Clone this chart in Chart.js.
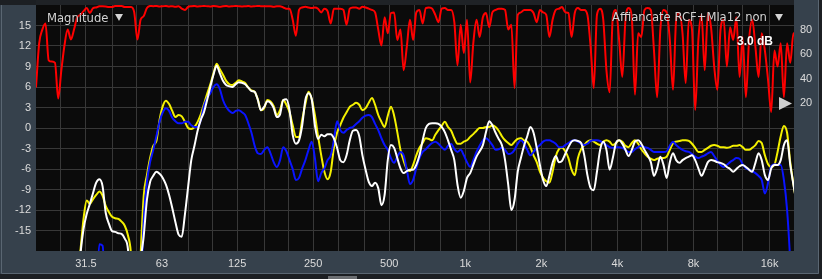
<!DOCTYPE html>
<html><head><meta charset="utf-8">
<script src="https://cdn.jsdelivr.net/npm/chart.js@4/dist/chart.umd.min.js"></script>
<style>html,body{margin:0;padding:0;background:#1c1f23;overflow:hidden}#wrap{width:822px;height:279px;position:relative}</style>
</head><body><div id="wrap"><canvas id="c" width="822" height="279"></canvas></div>
<script>
// 1/24-octave frequency bins (Hz)
const freqs = [
20,20.59,21.19,21.81,22.45,23.11,23.78,24.48,25.2,25.94,26.7,27.48,28.28,29.11,29.97,30.84,31.75,32.68,33.64,34.62,35.64,36.68,37.75,38.86,
40,41.17,42.38,43.62,44.9,46.22,47.57,48.96,50.4,51.87,53.39,54.96,56.57,58.23,59.93,61.69,63.5,65.36,67.27,69.24,71.27,73.36,75.51,77.72,
80,82.34,84.76,87.24,89.8,92.43,95.14,97.93,100.8,103.7,106.8,109.9,113.1,116.5,119.9,123.4,127,130.7,134.5,138.5,142.5,146.7,151,155.4,
160,164.7,169.5,174.5,179.6,184.9,190.3,195.9,201.6,207.5,213.6,219.8,226.3,232.9,239.7,246.8,254,261.4,269.1,277,285.1,293.4,302,310.9,
320,329.4,339,349,359.2,369.7,380.5,391.7,403.2,415,427.1,439.6,452.5,465.8,479.5,493.5,508,522.9,538.2,554,570.2,586.9,604.1,621.8,
640,658.8,678.1,697.9,718.4,739.5,761.1,783.4,806.4,830,854.3,879.3,905.1,931.6,958.9,987,1016,1046,1076,1108,1140,1174,1208,1244,
1280,1318,1356,1396,1437,1479,1522,1567,1613,1660,1709,1759,1810,1863,1918,1974,2032,2092,2153,2216,2281,2348,2416,2487,
2560,2635,2712,2792,2874,2958,3044,3134,3225,3320,3417,3517,3620,3727,3836,3948,4064,4183,4305,4432,4561,4695,4833,4974,
5120,5270,5425,5583,5747,5916,6089,6267,6451,6640,6834,7035,7241,7453,7671,7896,8127,8366,8611,8863,9123,9390,9665,9948,
10240,10540,10850,11170,11490,11830,12180,12530,12900,13280,13670,14070,14480,14900,15340,15790,16250,16730,17220,17720,18240,18780,19330,19900,
20480];

// Magnitude traces (dB)
const yellowDb = [
-30,-30,-30,-30,-30,-30,-30,-30,-30,-30,-30,-30,-30,-22,-18,-13.3,-10.6,-11.1,-10.4,-9.8,-9.3,-9.9,-11.4,-12.3,
-13.0,-13.2,-13.3,-13.7,-14.3,-15.7,-18.7,-30,-30,-18.8,-9.9,-6.9,-4.4,-2.6,-1.9,1.2,3.2,4.0,3.5,2.5,1.6,1.9,1.7,0.9,
0,-0.15,0.15,0.9,2.0,3.5,5.0,6.4,8.0,9.4,8.6,7.8,6.9,6.4,6.3,6.6,7.0,6.8,6.6,5.9,5.5,5.3,4.2,2.6,
2.9,4.1,3.9,3.2,1.9,2.6,4.1,3.4,2.3,0.4,-1.3,-1.3,1.2,3.5,5.3,4.2,1.9,-1.2,-4.0,-6.4,-7.5,-6.4,-2.9,-0.7,
0.4,1.5,2.3,3.1,3.4,3.7,3.4,2.6,2.9,3.7,4.4,3.4,1.9,0.9,0.15,1.8,3.1,1.8,-0.6,-3.2,-4.8,-6.0,-6.3,-5.4,
-4.0,-2.9,-2.2,-1.5,-1.6,-1.8,-1.0,-0.3,0.3,0.9,0.15,-0.4,-1.5,-2.3,-2.3,-2.0,-1.8,-1.3,-0.9,-0.4,0,0,0.15,0.15,
0.4,0.15,-0.4,-1.2,-1.8,-2.2,-2.5,-2.0,-1.6,-1.5,-1.8,-2.0,-2.8,-4.0,-5.0,-6.4,-7.3,-7.8,-8.0,-6.4,-4.2,-3.1,-2.9,-3.4,
-4.4,-6.1,-6.9,-4.4,-3.1,-2.5,-2.0,-1.8,-2.0,-2.3,-2.5,-2.0,-1.8,-2.0,-2.5,-2.2,-1.8,-2.0,-2.6,-2.8,-2.2,-1.8,-2.3,-3.1,
-3.7,-4.2,-4.5,-4.7,-4.5,-4.4,-4.4,-4.2,-3.2,-2.2,-2.0,-1.9,-1.8,-1.8,-1.9,-2.3,-2.9,-3.5,-3.5,-3.2,-2.9,-2.6,-2.5,-2.6,
-2.8,-2.8,-2.9,-2.8,-2.6,-2.6,-2.5,-2.8,-3.2,-3.2,-2.9,-2.5,-1.9,-2.2,-4.0,-5.3,-5.7,-5.4,-3.5,-1.2,0.3,-0.7,-5.0,-8.2,
-11];

const whiteDb = [
-30,-30,-30,-30,-30,-30,-30,-30,-30,-30,-30,-30,-30,-25,-18.6,-14.8,-12.6,-11.1,-9.5,-8.0,-7.5,-8.5,-12.4,-14.0,
-15.1,-15.2,-15.4,-15.5,-16.2,-17.7,-25,-30,-30,-20,-15.8,-10.5,-7.9,-7.0,-6.4,-6.7,-7.3,-8.3,-9.8,-11.7,-13.8,-15.6,-15.9,-12.6,
-8.6,-4.7,-2.6,-0.4,1.2,2.3,4.1,6.0,7.8,9.1,8.0,6.9,6.3,6.1,6.0,6.4,6.7,6.6,6.4,5.9,5.4,5.3,4.1,2.6,
3.1,3.9,3.7,2.9,1.6,2.0,4.1,4.2,2.6,-1.0,-2.3,-1.8,0.4,4.1,5.1,4.2,0.4,-1.6,-1.0,-1.2,-0.9,-0.9,-1.5,-2.9,
-4.7,-5.0,-4.0,-1.8,-0.4,-0.3,-1.2,-4.0,-6.1,-7.9,-8.5,-8.0,-8.8,-11.3,-9.8,-4.7,-2.5,-2.9,-4.4,-5.9,-6.6,-6.3,-6.1,-6.1,
-5.4,-4.0,-1.8,0,0.6,0.7,0.7,0.6,0.15,-0.6,-1.8,-3.2,-4.7,-8.3,-10.2,-9.2,-7.3,-6.6,-5.4,-4.2,-3.4,-2.5,-0.6,1.0,
0.4,-0.7,-1.6,-2.5,-4.7,-8.3,-12.0,-10.5,-6.4,-4.4,-2.6,-1.2,0.15,-0.7,-2.9,-5.4,-7.6,-8.5,-7.0,-5.1,-4.1,-5.0,-4.8,-3.8,
-2.8,-2.0,-1.8,-1.9,-2.2,-4.0,-6.9,-8.8,-9.1,-6.4,-3.2,-2.0,-3.2,-6.1,-4.4,-2.2,-1.8,-2.3,-3.2,-4.1,-3.2,-2.0,-1.8,-2.3,
-3.2,-4.0,-5.0,-7.0,-5.9,-4.2,-5.4,-7.3,-5.0,-3.7,-4.7,-5.1,-4.7,-4.4,-4.2,-4.0,-4.7,-5.9,-7.0,-6.1,-5.0,-4.7,-4.8,-5.0,
-5.1,-5.3,-5.7,-6.0,-6.4,-6.0,-5.6,-5.4,-5.7,-6.1,-6.4,-5.1,-3.7,-4.7,-6.9,-7.6,-5.9,-5.4,-5.4,-4.7,-2.5,-1.8,-5.4,-8.3,
-11];

const blueDb = [
-30,-30,-30,-30,-30,-30,-30,-30,-30,-30,-30,-30,-30,-30,-30,-30,-30,-30,-30,-25,-17.0,-17.2,-25,-30,
-30,-30,-30,-30,-30,-30,-30,-30,-30,-25,-13.5,-7.9,-5.0,-3.2,-1.2,0.9,2.3,2.9,2.5,1.5,1.0,0.7,0.7,0.9,
0.9,0.4,0.15,0.15,1.2,3.2,4.4,5.1,6.0,6.4,5.7,4.1,3.1,2.5,2.2,2.5,2.6,2.3,1.9,0.7,-0.7,-2.6,-3.7,-3.8,
-3.2,-2.8,-3.7,-5.0,-5.7,-4.7,-2.8,-3.4,-4.7,-6.0,-7.6,-7.3,-5.9,-4.7,-3.2,-2.0,-4.4,-7.8,-6.6,-5.9,-4.7,-4.0,-1.8,1.0,
-0.3,-0.7,-0.3,0,0.15,0.6,1.0,1.5,1.8,1.9,1.6,0.6,-0.3,-1.5,-2.5,-3.2,-4.4,-5.1,-4.2,-3.5,-4.0,-6.1,-8.2,-7.6,
-5.9,-4.4,-3.5,-3.1,-2.6,-2.2,-2.0,-2.3,-2.8,-3.2,-2.6,-2.3,-3.1,-3.5,-3.2,-4.0,-5.0,-5.7,-4.7,-3.5,-2.6,-1.8,-1.5,-1.9,
-2.5,-3.2,-3.1,-2.9,-3.2,-3.8,-3.7,-3.2,-2.3,-1.8,-2.3,-3.2,-4.0,-3.5,-2.9,-2.5,-2.0,-1.8,-1.8,-2.0,-2.3,-2.8,-2.8,-2.5,
-2.2,-1.9,-1.8,-2.0,-2.3,-2.5,-2.3,-1.9,-1.8,-1.8,-1.9,-2.2,-2.5,-2.8,-2.9,-2.8,-2.8,-2.9,-3.2,-3.5,-3.5,-3.1,-2.8,-2.6,
-2.8,-2.9,-3.2,-3.5,-3.5,-3.5,-3.5,-3.4,-2.6,-2.0,-2.5,-2.9,-3.2,-3.4,-3.5,-3.8,-4.2,-4.4,-4.2,-4.0,-3.7,-3.5,-4.1,-4.8,
-5.4,-5.7,-5.4,-5.0,-4.7,-4.4,-4.5,-5.3,-5.9,-6.1,-6.3,-6.6,-7.0,-7.6,-9.6,-8.0,-5.6,-5.3,-5.4,-5.4,-7.6,-12.0,-19.6,-30,
-30];

// Coherence (%)
const coherencePct = [
33,69,80,85,55,54,53,24,47,67.5,80,72,80,90,92,95,97.5,93.5,97.5,98,99,99,98.8,98.4,
98.4,99.2,99.2,99.2,98.4,98.4,98.4,94,72,88,91,97.6,99.2,99,99.2,98.8,99,99.2,98.8,99,98.6,99,97,96,
98.5,99,99.2,98.8,99,99.2,99,98.8,99.2,99,98.6,99,99.2,98.8,99,99.2,99,98.8,99,99.2,98.8,99,99.2,99,
99,99,99,98.5,99,99,98,97,97,88,75,96,98,98.5,98,97.5,98,97,94,97,95,85,97,97,
97,96,84,97,98,98,97,98.5,98,97,96,94,80,67,90,77,93.5,94,71.5,80,47,66,88,71.5,
94,96,85,97.5,98,97,92,86,97,97.5,96,96,86,51,84,61,88,37,69,88,74,90,93.5,82,
94,96,97,97,96,80,84,32.5,92,94,96,96,96,93.5,86,96,94,92,74,88,96,97,98.4,94,
93.5,74,93.5,97.5,96,96,92,66,32.5,92,97,88,47,29,90,96,71.5,41.5,88,97.5,90,27,77,74,
96,97.5,96,63,25,80,96,94,71.5,31,88,93.5,77,36.5,88,80,14.6,71.5,92,47,93.5,82,50,31,
80,88,50,82,71.5,90,41.5,74,25,71.5,88,66,41.5,77,63,39,13,63,50,69,25,69,53,77,
70];

// Axes
const gridFreqs = [25,31.5,40,50,63,80,100,125,160,200,250,315,400,500,630,800,1000,1250,1600,2000,2500,3150,4000,5000,6300,8000,10000,12500,16000];
const freqLabels = {31.5:'31.5',63:'63',125:'125',250:'250',500:'500',1000:'1k',2000:'2k',4000:'4k',8000:'8k',16000:'16k'};
const dbTicks = [-15,-12,-9,-6,-3,0,3,6,9,12,15];
const cohTicks = [20,40,60,80];
const headerLeft = 'Magnitude';
const headerRight = 'Affiancate RCF+Mla12 non';
const offsetLabel = '3.0 dB';

function pts(arr){ return freqs.map((f,i)=>({x:f,y:arr[i]})); }
function noPad(s){ s.paddingTop=0; s.paddingBottom=0; s.paddingLeft=0; s.paddingRight=0; }

const frame = {
  id:'frame',
  beforeDraw(chart){
    const c = chart.ctx, a = chart.chartArea;
    c.save();
    c.fillStyle = '#1c1f23'; c.fillRect(0,0,822,279);
    c.fillStyle = '#36414c'; c.fillRect(0,5,a.left,269); c.fillRect(0,a.bottom,819,23); c.fillRect(a.right,0,25,274);
    c.fillStyle = '#1f2226'; c.fillRect(a.left,0,a.right-a.left,5);
    c.strokeStyle = '#5a6672'; c.lineWidth = 1;
    c.beginPath(); c.moveTo(1.5,5); c.lineTo(1.5,273.5); c.lineTo(818.5,273.5); c.lineTo(818.5,0); c.stroke();
    c.fillStyle = '#0b0b0b'; c.fillRect(a.left,a.top,a.right-a.left,a.bottom-a.top);
    c.fillStyle = '#6c6f73'; c.fillRect(328,276,29,3);
    c.restore();
  },
  afterDraw(chart){
    const c = chart.ctx;
    c.save();
    c.shadowColor = 'rgba(0,0,0,0.9)'; c.shadowBlur = 2;
    c.fillStyle = '#d4d4d4';
    c.font = '11.6px "DejaVu Sans"';
    c.textBaseline = 'alphabetic';
    c.fillText(headerLeft, 47, 21.5);
    c.beginPath(); c.moveTo(115,14); c.lineTo(123,14); c.lineTo(119,21); c.closePath(); c.fill();
    c.fillText(headerRight, 612, 21);
    c.beginPath(); c.moveTo(775,14); c.lineTo(783,14); c.lineTo(779,21); c.closePath(); c.fill();
    c.font = 'bold 12px "Liberation Sans"';
    c.fillStyle = '#ffffff'; c.shadowBlur = 3; c.shadowColor = '#000';
    c.fillText(offsetLabel, 737, 45);
    c.shadowBlur = 0;
    c.fillStyle = '#cfcfcf';
    c.beginPath(); c.moveTo(779,97); c.lineTo(779,110); c.lineTo(792,103.5); c.closePath(); c.fill();
    c.restore();
  }
};

const line = (label,data,color,order,axis)=>({label,data:pts(data),borderColor:color,borderWidth:2,pointRadius:0,
  cubicInterpolationMode:'monotone',order,yAxisID:axis||'y',fill:false});

new Chart(document.getElementById('c'),{
  type:'line',
  data:{datasets:[
    line('White',whiteDb,'#ffffff',1),
    line('Blue',blueDb,'#0a14ff',2),
    line('Yellow',yellowDb,'#f4f000',3),
    line('Coherence',coherencePct,'#ff0000',4,'y2')
  ]},
  options:{
    responsive:false, animation:false, devicePixelRatio:1,
    layout:{padding:{top:5,left:0,right:0,bottom:0}},
    plugins:{legend:{display:false},tooltip:{enabled:false}},
    scales:{
      x:{type:'logarithmic',min:20,max:20000,
        afterBuildTicks:s=>{s.ticks=gridFreqs.map(v=>({value:v}));},
        afterFit:s=>{s.height=28; noPad(s);},
        grid:{color:'#383838',lineWidth:1,drawTicks:false},
        border:{display:false},
        ticks:{autoSkip:false,maxRotation:0,minRotation:0,padding:6,color:'#dcdcdc',
          font:{family:'"Liberation Sans"',size:11},
          callback:v=>freqLabels[v]||''}
      },
      y:{type:'linear',position:'left',min:-18,max:18,
        afterBuildTicks:s=>{s.ticks=dbTicks.map(v=>({value:v}));},
        afterFit:s=>{s.width=36; noPad(s);},
        grid:{color:'#383838',lineWidth:1,drawTicks:false},
        border:{display:false},
        ticks:{padding:5,color:'#dcdcdc',font:{family:'"Liberation Sans"',size:11}}
      },
      y2:{type:'linear',position:'right',min:-100,max:100,
        afterBuildTicks:s=>{s.ticks=cohTicks.map(v=>({value:v}));},
        afterFit:s=>{s.width=28; noPad(s);},
        grid:{display:false,drawTicks:false},
        border:{display:false},
        ticks:{padding:6,color:'#dcdcdc',font:{family:'"Liberation Sans"',size:11}}
      }
    }
  },
  plugins:[frame]
});
</script></body></html>
